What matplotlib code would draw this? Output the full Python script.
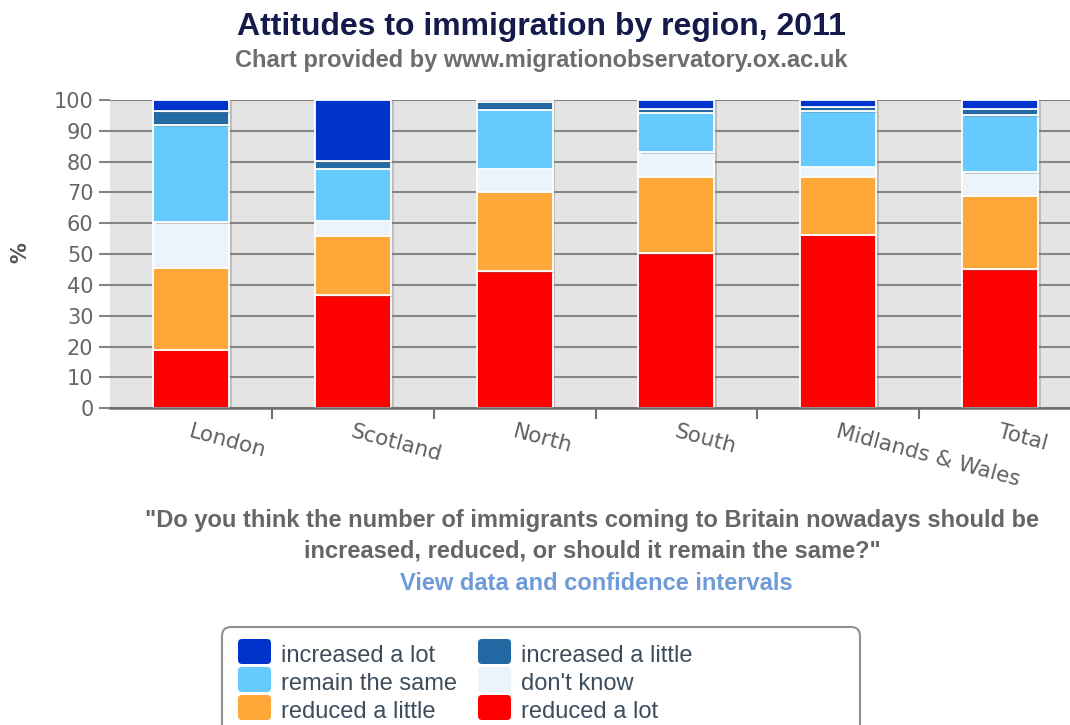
import numpy as np
import matplotlib
matplotlib.use("Agg")
import matplotlib.pyplot as plt
from matplotlib import patheffects as pe
from matplotlib.patches import FancyBboxPatch
from matplotlib.transforms import IdentityTransform

# ===[ Data ]==================================================================
regions = ["London", "Scotland", "North", "South", "Midlands & Wales", "Total"]
series = ["reduced a lot", "reduced a little", "don't know",
          "remain the same", "increased a little", "increased a lot"]

reduced_lot = [19.0, 36.6, 44.4, 50.3, 56.3, 45.1]
reduced_little = [26.5, 19.4, 25.9, 24.7, 18.7, 23.8]
dont_know = [14.8, 4.9, 7.4, 8.0, 3.4, 7.6]
remain_same = [31.5, 16.7, 19.2, 12.8, 17.9, 18.5]
increased_little = [4.5, 2.5, 2.5, 1.3, 1.4, 2.1]
increased_lot = [3.7, 19.9, 0.6, 2.9, 2.3, 2.9]

colors = {
    "reduced a lot": "#ff0000",
    "reduced a little": "#ffa83a",
    "don't know": "#ebf3fb",
    "remain the same": "#66caff",
    "increased a little": "#236aa4",
    "increased a lot": "#0033cc",
}

# ===[ Figure ]================================================================
W, H = 1070, 725
fig = plt.figure(figsize=(W / 100, H / 100), dpi=100)
fig.patch.set_facecolor("white")

left, right, top, bottom = 110.1, 1081.0, 100.0, 408.3
ax = fig.add_axes([left / W, 1 - bottom / H, (right - left) / W,
                   (bottom - top) / H])
ax.set_facecolor("#e4e4e4")

x = np.arange(len(regions))
values = [reduced_lot, reduced_little, dont_know, remain_same,
          increased_little, increased_lot]
base = np.zeros(len(regions))
shadow = [pe.SimplePatchShadow(offset=(2, -1), shadow_rgbFace="#777777",
                               alpha=0.35), pe.Normal()]
for name, vals in zip(series, values):
    ax.bar(x, vals, width=0.47, bottom=base, color=colors[name],
           edgecolor="white", linewidth=1.3, zorder=3, path_effects=shadow)
    base += np.array(vals)

# --- axes styling
ax.set_xlim(-0.5, len(regions) - 0.5)
ax.set_ylim(0, 100)
ax.set_yticks(np.arange(0, 101, 10))
ax.yaxis.grid(True, color="#858585", linewidth=1.5, zorder=1)
ax.set_axisbelow(True)
for s in ["top", "right", "left"]:
    ax.spines[s].set_visible(False)
ax.spines["bottom"].set_color("#707070")
ax.spines["bottom"].set_linewidth(1.8)
ax.spines["bottom"].set_zorder(4)
ax.tick_params(axis="y", length=8, width=1.5, color="#858585",
               labelsize=15, labelcolor="#666666", pad=4)
ax.set_xticks(x[:-1] + 0.5)
ax.set_xticklabels([])
ax.tick_params(axis="x", length=8, width=1.5, color="#707070",
               direction="out")
for lbl in ax.get_yticklabels():
    lbl.set_family("DejaVu Sans")

for i, r in enumerate(regions):
    ax.annotate(r, xy=(i, 0), xycoords="data", xytext=(1, -13),
                textcoords="offset pixels", rotation=-15,
                rotation_mode="anchor", ha="left", va="top",
                fontsize=15.5, color="#606060", family="DejaVu Sans",
                annotation_clip=False)

fig.text(20 / W, 1 - 253 / H, "%", rotation=90, ha="center", va="center",
         fontsize=15, color="#555555", family="DejaVu Sans",
         fontweight="bold")

# --- titles
fig.text(541 / W, 1 - 27 / H, "Attitudes to immigration by region, 2011",
         ha="center", va="center", fontsize=23, fontweight="bold",
         color="#141a4c", family="Liberation Sans")
fig.text(541 / W, 1 - 61 / H,
         "Chart provided by www.migrationobservatory.ox.ac.uk",
         ha="center", va="center", fontsize=17, fontweight="bold",
         color="#6d6d6d", family="Liberation Sans")

# --- caption
cap = dict(ha="center", va="center", fontsize=17, fontweight="bold",
           family="Liberation Sans")
fig.text(592 / W, 1 - 521 / H,
         "\"Do you think the number of immigrants coming to Britain "
         "nowadays should be", color="#666666", **cap)
fig.text(592 / W, 1 - 551 / H,
         "increased, reduced, or should it remain the same?\"",
         color="#666666", **cap)
fig.text(596 / W, 1 - 583 / H, "View data and confidence intervals",
         color="#6e9bd6", **cap)

# --- legend, drawn in pixel space (two columns, three rows)
px = IdentityTransform()
fig.add_artist(FancyBboxPatch((222, H - 745), 638, 745 - 627,
                              boxstyle="round,pad=0,rounding_size=9",
                              facecolor="white", edgecolor="#909090",
                              linewidth=1.5, transform=px))
legend_rows = [["increased a lot", "increased a little"],
               ["remain the same", "don't know"],
               ["reduced a little", "reduced a lot"]]
col_x = [238, 478]
for r, row in enumerate(legend_rows):
    top_y = 639 + 28 * r
    for c, name in enumerate(row):
        fig.add_artist(FancyBboxPatch((col_x[c], H - top_y - 25), 33, 25,
                                      boxstyle="round,pad=0,rounding_size=4",
                                      facecolor=colors[name],
                                      edgecolor="none", transform=px))
        fig.text(col_x[c] + 43, H - (top_y + 23), name, transform=px,
                 ha="left", va="baseline", fontsize=17,
                 family="Liberation Sans", color="#3d4d5c")

fig.savefig("out.png", dpi=100)
